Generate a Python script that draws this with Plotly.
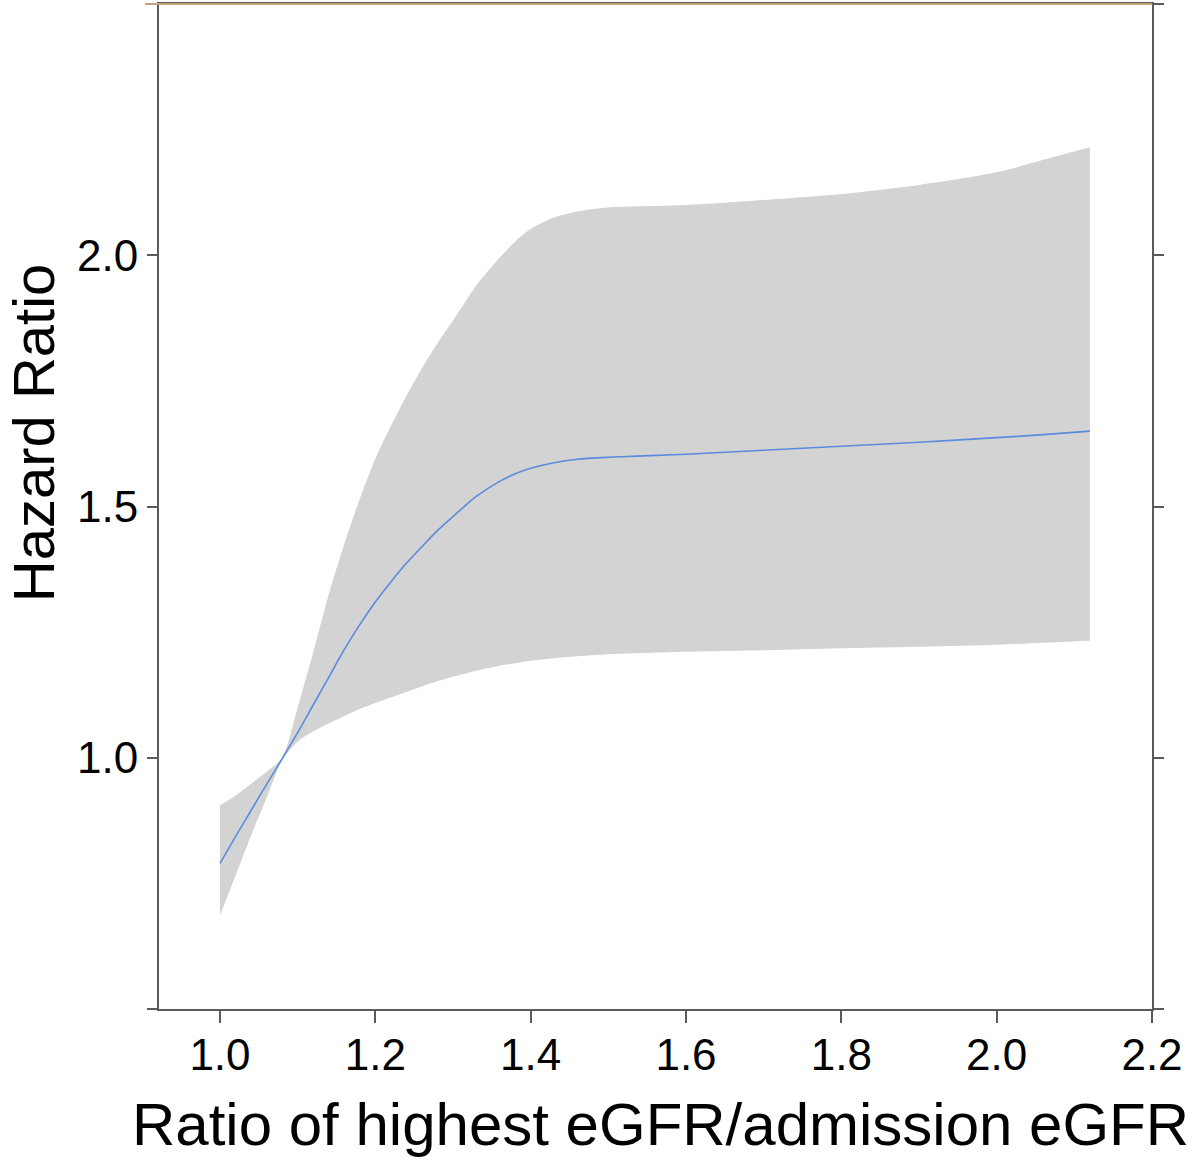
import plotly.graph_objects as go

# Data
x_vals = [1.00, 1.02, 1.04, 1.06, 1.08, 1.10, 1.12, 1.14, 1.16, 1.18, 1.20, 1.22, 1.24,
          1.26, 1.28, 1.30, 1.33, 1.36, 1.38, 1.40, 1.43, 1.46, 1.50, 1.60, 1.70, 1.80,
          1.90, 2.00, 2.06, 2.12]
hr = [0.79, 0.843, 0.895, 0.947, 0.998, 1.05, 1.105, 1.16, 1.215, 1.265, 1.31, 1.35, 1.387,
      1.42, 1.452, 1.48, 1.52, 1.55, 1.565, 1.576, 1.587, 1.594, 1.598, 1.604, 1.612, 1.62,
      1.628, 1.637, 1.643, 1.65]
upper = [0.905, 0.925, 0.948, 0.972, 1.0, 1.10, 1.21, 1.325, 1.425, 1.515, 1.595, 1.66, 1.72,
         1.775, 1.825, 1.87, 1.94, 1.995, 2.027, 2.052, 2.075, 2.087, 2.095, 2.10, 2.11, 2.122,
         2.14, 2.165, 2.19, 2.215]
lower = [0.686, 0.765, 0.845, 0.92, 0.995, 1.032, 1.052, 1.068, 1.083, 1.097, 1.109, 1.12, 1.131,
         1.142, 1.152, 1.161, 1.173, 1.183, 1.188, 1.193, 1.198, 1.202, 1.206, 1.211, 1.214, 1.218,
         1.221, 1.225, 1.229, 1.233]

x_ticks = [1.0, 1.2, 1.4, 1.6, 1.8, 2.0, 2.2]
x_ticktext = ["1.0", "1.2", "1.4", "1.6", "1.8", "2.0", "2.2"]
y_ticks = [0.5, 1.0, 1.5, 2.0, 2.5]
y_ticktext = ["", "1.0", "1.5", "2.0", ""]

FONT = "Liberation Sans, Arial, sans-serif"
AXIS_COLOR = "#5a5a5a"

fig = go.Figure()
fig.add_trace(go.Scatter(x=x_vals, y=lower, mode="lines",
                         line=dict(width=0, color="rgba(0,0,0,0)", shape="spline", smoothing=0.8),
                         hoverinfo="skip", showlegend=False))
fig.add_trace(go.Scatter(x=x_vals, y=upper, mode="lines", fill="tonexty", fillcolor="#d3d3d3",
                         line=dict(width=0, color="rgba(0,0,0,0)", shape="spline", smoothing=0.8),
                         hoverinfo="skip", showlegend=False))
fig.add_trace(go.Scatter(x=x_vals, y=hr, mode="lines",
                         line=dict(color="#5b8bdc", width=1.6, shape="spline", smoothing=0.8),
                         showlegend=False))

fig.update_layout(
    width=1200, height=1170,
    margin=dict(l=159, r=48, t=2, b=161),
    paper_bgcolor="white", plot_bgcolor="white",
    font=dict(family=FONT, color="black"),
    xaxis=dict(range=[0.9215, 2.2], tickvals=x_ticks, ticktext=x_ticktext,
               ticks="outside", ticklen=12, tickwidth=2, tickcolor=AXIS_COLOR,
               showline=True, linecolor=AXIS_COLOR, linewidth=2, mirror=True,
               ticklabelstandoff=-6,
               showgrid=False, zeroline=False, tickfont=dict(size=44, family=FONT)),
    yaxis=dict(range=[0.5, 2.5], tickvals=y_ticks, ticktext=y_ticktext,
               ticks="outside", ticklen=10, tickwidth=2, tickcolor=AXIS_COLOR,
               showline=True, linecolor=AXIS_COLOR, linewidth=2, mirror="ticks",
               showgrid=False, zeroline=False, tickfont=dict(size=44, family=FONT)),
    annotations=[
        dict(text="Ratio of highest eGFR/admission eGFR", xref="paper", yref="paper",
             x=0.5 + (660 - 655.5) / 993, y=-(1125 - 1009) / 1007, showarrow=False,
             font=dict(size=60, family=FONT, color="black"), xanchor="center", yanchor="middle"),
        dict(text="Hazard Ratio", xref="paper", yref="paper", textangle=-90,
             x=-(159 - 33) / 993, y=(1009 - 432) / 1007, showarrow=False,
             font=dict(size=58, family=FONT, color="black"), xanchor="center", yanchor="middle"),
    ],
    shapes=[dict(type="line", xref="paper", yref="paper", x0=-0.014, x1=1.0, y0=1.0, y1=1.0,
                 line=dict(color="#c8a27e", width=2))],
)

fig.write_html("out.html", config={"displayModeBar": False},
               post_script="document.body.style.margin='0px';")
